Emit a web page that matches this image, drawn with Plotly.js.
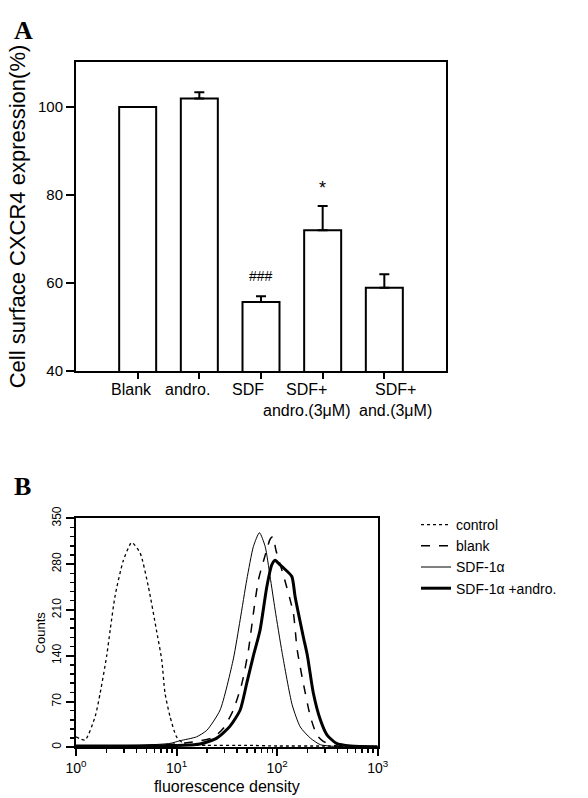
<!DOCTYPE html>
<html>
<head>
<meta charset="utf-8">
<script src="https://cdn.plot.ly/plotly-3.0.1.min.js"></script>
<style>html,body{margin:0;padding:0;background:#fff;}#chart{width:588px;height:798px;}</style>
</head>
<body>
<div id="chart"></div>
<script>
// ---------- Panel A data ----------
const categoriesA = ['Blank', 'andro.', 'SDF', 'SDF+<br>andro.(3μM)', 'SDF+<br>and.(3μM)'];
const valuesA = [100, 101.9, 55.7, 72.0, 58.9];
const errorsA = [0, 1.4, 1.3, 5.5, 3.1];
const sigMarksA = ['', '', '###', '*', ''];
const yTicksA = [40, 60, 80, 100];

// ---------- Panel B data (fluorescence density vs counts) ----------
const controlX = [1, 1.23, 1.55, 1.74, 2.02, 2.19, 2.45, 2.95, 3.58, 4.34, 5.25, 6.31, 7.13, 7.67, 8.61, 10, 12, 20, 50, 100, 300, 1000];
const controlY = [16, 11, 47, 83, 140, 180, 232, 285, 313, 297, 245, 179, 133, 83, 47, 16, 5, 3, 3, 2, 2, 1];

const blankX = [1, 3.2, 7.9, 12.6, 17.1, 23.2, 29.2, 36.7, 44.7, 51.9, 58.1, 65.2, 78.9, 85.1, 90.6, 97.7, 116, 145, 158, 182, 214, 248, 288, 363, 500, 1000];
const blankY = [2, 2, 4, 7, 10, 15, 29, 57, 98, 149, 205, 256, 302, 318, 322, 300, 262, 205, 150, 98, 47, 19, 9, 3, 1, 0];

const sdfX = [1, 3.16, 8.61, 10.8, 15.8, 20, 27.1, 36.7, 42.9, 49.9, 58.1, 66.7, 76, 85.1, 95.5, 112, 141, 170, 214, 269, 400, 1000];
const sdfY = [1, 2, 6, 10, 16, 26, 57, 135, 195, 256, 307, 328, 307, 261, 210, 145, 65, 31, 14, 4, 1, 0];

const andX = [1, 3.16, 11.7, 17.1, 25.1, 33.9, 42.9, 49.9, 58.1, 67.6, 78.9, 88.5, 95.5, 105, 116, 140, 151, 182, 200, 229, 269, 313, 389, 537, 1000];
const andY = [2, 2, 3, 5, 14, 32, 57, 98, 140, 179, 245, 279, 286, 280, 274, 261, 230, 169, 140, 83, 42, 19, 6, 2, 1];

const seriesNames = ['control', 'blank', 'SDF-1α', 'SDF-1α +andro.'];
const xTickValsB = [1, 10, 100, 1000];
const xTickTextB = ['10<sup>0</sup>', '10<sup>1</sup>', '10<sup>2</sup>', '10<sup>3</sup>'];
const yTicksB = [0, 70, 140, 210, 280, 350];

const FONT = 'Arial, "Liberation Sans", Helvetica, sans-serif';
// horizontal nudges (px) of the category labels, as placed in the original figure
const labelNudgeA = [-6, -12, -13, -16, 11];

const traces = [
  {
    type: 'bar', x: categoriesA, y: valuesA, width: 0.6,
    marker: {color: '#ffffff', line: {color: '#000', width: 2}},
    error_y: {type: 'data', array: errorsA, arrayminus: errorsA.map(() => 0), symmetric: false,
              color: '#000', thickness: 2, width: 5},
    xaxis: 'x', yaxis: 'y', showlegend: false, hoverinfo: 'skip'
  },
  {type: 'scatter', mode: 'lines', x: controlX, y: controlY, name: seriesNames[0],
   line: {color: '#000', width: 1.3, dash: 'dot', shape: 'spline', smoothing: 0.6}, xaxis: 'x2', yaxis: 'y2'},
  {type: 'scatter', mode: 'lines', x: blankX, y: blankY, name: seriesNames[1],
   line: {color: '#000', width: 1.5, dash: 'dash', shape: 'spline', smoothing: 0.6}, xaxis: 'x2', yaxis: 'y2'},
  {type: 'scatter', mode: 'lines', x: sdfX, y: sdfY, name: seriesNames[2],
   line: {color: '#000', width: 1, shape: 'spline', smoothing: 0.6}, xaxis: 'x2', yaxis: 'y2'},
  {type: 'scatter', mode: 'lines', x: andX, y: andY, name: seriesNames[3],
   line: {color: '#000', width: 3, shape: 'spline', smoothing: 0.6}, xaxis: 'x2', yaxis: 'y2'}
];

const yDomA = [1 - 371 / 798, 1 - 62 / 798];

const annotations = [
  {text: '<b>A</b>', xref: 'paper', yref: 'paper', x: 12 / 588, y: 1 - 14 / 798, xanchor: 'left', yanchor: 'top',
   showarrow: false, font: {family: '"Liberation Serif", "Times New Roman", serif', size: 26, color: '#000'}},
  {text: '<b>B</b>', xref: 'paper', yref: 'paper', x: 12 / 588, y: 1 - 470 / 798, xanchor: 'left', yanchor: 'top',
   showarrow: false, font: {family: '"Liberation Serif", "Times New Roman", serif', size: 26, color: '#000'}}
];
sigMarksA.forEach((m, i) => {
  if (!m) return;
  annotations.push({
    text: m, x: categoriesA[i], y: valuesA[i] + errorsA[i], xref: 'x', yref: 'y',
    yanchor: 'bottom', yshift: m === '*' ? 6 : 10, showarrow: false,
    font: {family: FONT, size: m === '*' ? 18 : 14, color: '#000'}
  });
});
// category labels of panel A (drawn as text under each tick)
categoriesA.forEach((c, i) => {
  annotations.push({
    text: c, x: c, xref: 'x', y: yDomA[0], yref: 'paper', yanchor: 'top', xanchor: 'center',
    xshift: labelNudgeA[i], yshift: -8, align: 'center', showarrow: false,
    font: {family: FONT, size: 16, color: '#000'}
  });
});

const axisCommon = {
  showgrid: false, zeroline: false, showline: true, linecolor: '#000', linewidth: 2,
  mirror: true, ticks: 'outside', tickcolor: '#000', tickwidth: 2, automargin: false
};

const layout = {
  width: 588, height: 798,
  margin: {l: 0, r: 0, t: 0, b: 0},
  paper_bgcolor: '#fff', plot_bgcolor: '#fff',
  font: {family: FONT, color: '#000'},
  xaxis: Object.assign({}, axisCommon, {
    domain: [76 / 588, 446 / 588], anchor: 'y', type: 'category', range: [-1, 5],
    ticklen: 6, showticklabels: false
  }),
  yaxis: Object.assign({}, axisCommon, {
    domain: yDomA, anchor: 'x', range: [40, 110.2],
    tickvals: yTicksA, ticklen: 8, tickfont: {size: 15, family: FONT},
    title: {text: 'Cell surface CXCR4 expression(%)', font: {size: 22, family: FONT}, standoff: 6}
  }),
  xaxis2: Object.assign({}, axisCommon, {
    domain: [76 / 588, 377.7 / 588], anchor: 'y2', type: 'log', range: [0, 3],
    tickvals: xTickValsB, ticktext: xTickTextB, ticklen: 7, tickfont: {size: 14, family: FONT},
    minor: {dtick: 'D1', ticks: 'outside', ticklen: 4, tickwidth: 1.5, tickcolor: '#000', showgrid: false},
    title: {text: 'fluorescence density', font: {size: 16, family: FONT}, standoff: 6}
  }),
  yaxis2: Object.assign({}, axisCommon, {
    domain: [1 - 747.3 / 798, 1 - 518.3 / 798], anchor: 'x2', range: [0, 350],
    tickvals: yTicksB, ticklen: 8, tickangle: -90, tickfont: {size: 12, family: FONT},
    minor: {dtick: 14, ticks: 'outside', ticklen: 4, tickwidth: 1.5, tickcolor: '#000', showgrid: false},
    title: {text: 'Counts', font: {size: 13, family: FONT}, standoff: 2}
  }),
  legend: {
    x: 416 / 588, y: 1 - 509 / 798, xanchor: 'left', yanchor: 'top',
    font: {size: 14, family: FONT, color: '#000'}, bgcolor: 'rgba(0,0,0,0)', tracegroupgap: 0
  },
  annotations: annotations,
  showlegend: true
};

Plotly.newPlot('chart', traces, layout, {displayModeBar: false, staticPlot: true});
</script>
</body>
</html>
